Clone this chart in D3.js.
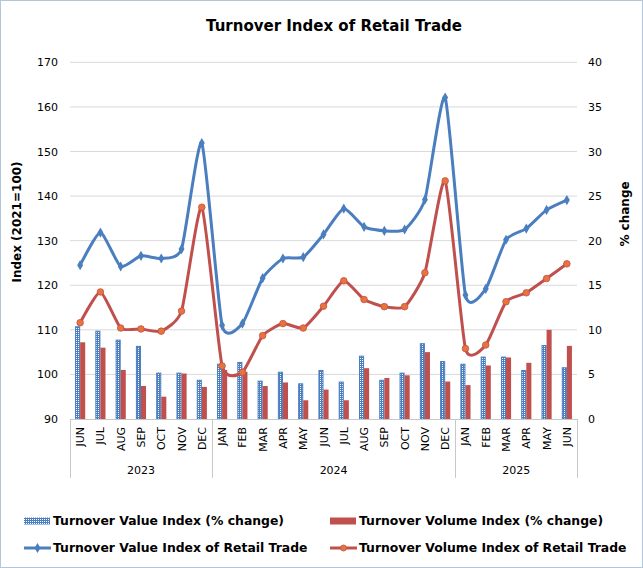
<!DOCTYPE html>
<html lang="en">
<head>
<meta charset="UTF-8">
<title>Turnover Index of Retail Trade</title>
<script src="https://d3js.org/d3.v7.min.js"></script>
<style>
    body { margin: 0; background: #fff; }
    svg { display: block; font-family: "DejaVu Sans", Verdana, sans-serif; }
    .tick-label { font-size: 11px; fill: #000; }
    .axis-title { font-size: 12px; font-weight: bold; }
    .legend-text { font-size: 12.4px; font-weight: bold; }
</style>
</head>
<body>
<svg width="643" height="568"></svg>
<script>
    // data
    const years = ["2023", "2024", "2025"];
    const monthsByYear = [
        ["JUN", "JUL", "AUG", "SEP", "OCT", "NOV", "DEC"],
        ["JAN", "FEB", "MAR", "APR", "MAY", "JUN", "JUL", "AUG", "SEP", "OCT", "NOV", "DEC"],
        ["JAN", "FEB", "MAR", "APR", "MAY", "JUN"]
    ];
    const valueIndex = [124.5, 131.8, 124.2, 126.6, 126.0, 128.1, 151.9,
        111.0, 111.4, 121.6, 126.0, 126.3, 131.4, 137.2, 133.1, 132.2, 132.5, 139.2, 162.1,
        117.8, 119.2, 130.2, 132.7, 136.9, 139.1];
    const volumeIndex = [111.6, 118.5, 110.4, 110.2, 109.7, 114.2, 137.5,
        101.9, 100.5, 108.7, 111.4, 110.4, 115.3, 121.0, 116.8, 115.2, 115.2, 122.8, 143.4,
        105.8, 106.6, 116.3, 118.3, 121.5, 124.8];
    const valueChange = [10.4, 9.9, 8.9, 8.2, 5.2, 5.2, 4.4,
        6.2, 6.4, 4.3, 5.3, 4.0, 5.5, 4.2, 7.1, 4.4, 5.2, 8.5, 6.5,
        6.2, 7.0, 7.0, 5.5, 8.3, 5.8];
    const volumeChange = [8.6, 8.0, 5.5, 3.7, 2.5, 5.1, 3.6,
        5.5, 5.3, 3.7, 4.1, 2.1, 3.3, 2.1, 5.7, 4.6, 4.9, 7.5, 4.2,
        3.8, 6.0, 6.9, 6.3, 10.0, 8.2];
    const leftTicks = [90, 100, 110, 120, 130, 140, 150, 160, 170];
    const rightTicks = [0, 5, 10, 15, 20, 25, 30, 35, 40];

    const blue = "#4a7ebf", red = "#c0504d", grid = "#d9d9d9", axisGrey = "#c8c8c8";

    // build category keys
    const cats = [];
    monthsByYear.forEach((ms, yi) => ms.forEach(m => cats.push({ key: years[yi] + "-" + m, month: m, year: years[yi] })));
    const rows = cats.map((c, i) => ({
        ...c,
        valueIndex: valueIndex[i], volumeIndex: volumeIndex[i],
        valueChange: valueChange[i], volumeChange: volumeChange[i]
    }));

    const plot = { left: 70, right: 577, top: 62.3, bottom: 419 };

    const svg = d3.select("svg");

    // blue dotted pattern for value % change bars
    const defs = svg.append("defs");
    const pat = defs.append("pattern")
        .attr("id", "dots")
        .attr("width", 2).attr("height", 2)
        .attr("patternUnits", "userSpaceOnUse");
    pat.append("rect").attr("width", 2).attr("height", 2).attr("fill", blue);
    pat.append("rect").attr("width", 1).attr("height", 1).attr("fill", "#ffffff");

    // outer border
    svg.append("rect")
        .attr("x", 0.5).attr("y", 0.5)
        .attr("width", 642).attr("height", 567)
        .attr("fill", "#fff")
        .attr("stroke", "#b3c6dd");

    // scales
    const x = d3.scaleBand()
        .domain(rows.map(d => d.key))
        .range([plot.left, plot.right])
        .padding(0);

    const xSub = d3.scaleBand()
        .domain(["value", "volume"])
        .range([0, x.bandwidth()])
        .paddingInner(0)
        .paddingOuter(1);

    const y = d3.scaleLinear().domain([90, 170]).range([plot.bottom, plot.top]);
    const y2 = d3.scaleLinear().domain([0, 40]).range([plot.bottom, plot.top]);

    // gridlines
    svg.append("g")
        .selectAll("line")
        .data(leftTicks.slice(1))
        .join("line")
        .attr("x1", plot.left).attr("x2", plot.right)
        .attr("y1", d => y(d)).attr("y2", d => y(d))
        .attr("stroke", grid);

    // left axis labels
    svg.append("g")
        .attr("transform", `translate(${plot.left},0)`)
        .call(d3.axisLeft(y).tickValues(leftTicks).tickSize(0).tickPadding(12))
        .call(g => g.select(".domain").remove())
        .selectAll("text")
        .attr("class", "tick-label")
        .style("font-family", "DejaVu Sans, Verdana, sans-serif");

    // right axis labels
    svg.append("g")
        .attr("transform", `translate(${plot.right},0)`)
        .call(d3.axisRight(y2).tickValues(rightTicks).tickSize(0).tickPadding(11))
        .call(g => g.select(".domain").remove())
        .selectAll("text")
        .attr("class", "tick-label")
        .style("font-family", "DejaVu Sans, Verdana, sans-serif");

    // bars
    svg.append("g")
        .selectAll("rect")
        .data(rows)
        .join("rect")
        .attr("x", d => x(d.key) + xSub("value") + 0.5)
        .attr("y", d => y2(d.valueChange) + 0.5)
        .attr("width", xSub.bandwidth() - 1)
        .attr("height", d => y2(0) - y2(d.valueChange) - 0.5)
        .attr("fill", "url(#dots)")
        .attr("stroke", blue)
        .attr("stroke-width", 1);

    svg.append("g")
        .selectAll("rect")
        .data(rows)
        .join("rect")
        .attr("x", d => x(d.key) + xSub("volume"))
        .attr("y", d => y2(d.volumeChange))
        .attr("width", xSub.bandwidth())
        .attr("height", d => y2(0) - y2(d.volumeChange))
        .attr("fill", red);

    // category axis: bottom line, group separators, labels
    const axisG = svg.append("g");
    axisG.append("line")
        .attr("x1", plot.left).attr("x2", plot.right)
        .attr("y1", plot.bottom + 0.5).attr("y2", plot.bottom + 0.5)
        .attr("stroke", axisGrey);

    const groupEdges = [0];
    monthsByYear.forEach(ms => groupEdges.push(groupEdges[groupEdges.length - 1] + ms.length));
    const edgeX = i => i < rows.length ? x(rows[i].key) : plot.right;

    axisG.selectAll(".sep")
        .data(groupEdges)
        .join("line")
        .attr("class", "sep")
        .attr("x1", d => Math.round(edgeX(d)) + 0.5).attr("x2", d => Math.round(edgeX(d)) + 0.5)
        .attr("y1", plot.bottom).attr("y2", 478)
        .attr("stroke", axisGrey);

    axisG.selectAll(".month")
        .data(rows)
        .join("text")
        .attr("class", "tick-label month")
        .attr("transform", d => `translate(${x(d.key) + x.bandwidth() / 2 + 4},427) rotate(-90)`)
        .attr("text-anchor", "end")
        .text(d => d.month);

    axisG.selectAll(".year")
        .data(years)
        .join("text")
        .attr("class", "tick-label year")
        .attr("x", (d, i) => (edgeX(groupEdges[i]) + edgeX(groupEdges[i + 1])) / 2)
        .attr("y", 474)
        .attr("text-anchor", "middle")
        .text(d => d);

    // lines (smoothed like the spreadsheet original)
    const lineFor = key => d3.line()
        .x(d => x(d.key) + x.bandwidth() / 2)
        .y(d => y(d[key]))
        .curve(d3.curveCardinal.tension(0.45));

    svg.append("path")
        .datum(rows)
        .attr("fill", "none")
        .attr("stroke", blue)
        .attr("stroke-width", 3)
        .attr("d", lineFor("valueIndex"));

    svg.append("path")
        .datum(rows)
        .attr("fill", "none")
        .attr("stroke", red)
        .attr("stroke-width", 3)
        .attr("d", lineFor("volumeIndex"));

    const diamond = d3.symbol().type(d3.symbolDiamond).size(30);

    svg.append("g")
        .selectAll("path")
        .data(rows)
        .join("path")
        .attr("transform", d => `translate(${x(d.key) + x.bandwidth() / 2},${y(d.valueIndex)})`)
        .attr("d", diamond)
        .attr("fill", blue);

    svg.append("g")
        .selectAll("circle")
        .data(rows)
        .join("circle")
        .attr("cx", d => x(d.key) + x.bandwidth() / 2)
        .attr("cy", d => y(d.volumeIndex))
        .attr("r", 3.3)
        .attr("fill", "#e8743b")
        .attr("stroke", red)
        .attr("stroke-width", 0.8);

    // titles
    svg.append("text")
        .attr("x", 334).attr("y", 31)
        .attr("text-anchor", "middle")
        .style("font-size", "15px")
        .style("font-weight", "bold")
        .text("Turnover Index of Retail Trade");

    svg.append("text")
        .attr("class", "axis-title")
        .attr("transform", "translate(21,222) rotate(-90)")
        .attr("text-anchor", "middle")
        .text("Index (2021=100)");

    svg.append("text")
        .attr("class", "axis-title")
        .attr("transform", "translate(629,214) rotate(-90)")
        .attr("text-anchor", "middle")
        .text("% change");

    // legend
    const legendItems = [
        { label: "Turnover Value Index (% change)", kind: "pattern", x: 24, y: 521 },
        { label: "Turnover Volume Index (% change)", kind: "bar", x: 330, y: 521 },
        { label: "Turnover Value Index of Retail Trade", kind: "diamond", x: 24, y: 548 },
        { label: "Turnover Volume Index of Retail Trade", kind: "circle", x: 330, y: 548 }
    ];

    const legend = svg.append("g");
    legendItems.forEach(it => {
        const g = legend.append("g").attr("transform", `translate(${it.x},${it.y})`);
        if (it.kind === "pattern" || it.kind === "bar") {
            g.append("rect")
                .attr("x", 0).attr("y", -3.5)
                .attr("width", 26).attr("height", 7)
                .attr("fill", it.kind === "pattern" ? "url(#dots)" : red);
        } else {
            const c = it.kind === "diamond" ? blue : red;
            g.append("line")
                .attr("x1", 0).attr("x2", 27)
                .attr("y1", 0).attr("y2", 0)
                .attr("stroke", c).attr("stroke-width", 3);
            if (it.kind === "diamond") {
                g.append("path").attr("transform", "translate(13.5,0)").attr("d", diamond).attr("fill", blue);
            } else {
                g.append("circle").attr("cx", 13.5).attr("r", 3).attr("fill", "#e8743b").attr("stroke", red).attr("stroke-width", 0.8);
            }
        }
        g.append("text")
            .attr("class", "legend-text")
            .attr("x", 29)
            .attr("dy", "0.35em")
            .text(it.label);
    });
</script>
</body>
</html>
